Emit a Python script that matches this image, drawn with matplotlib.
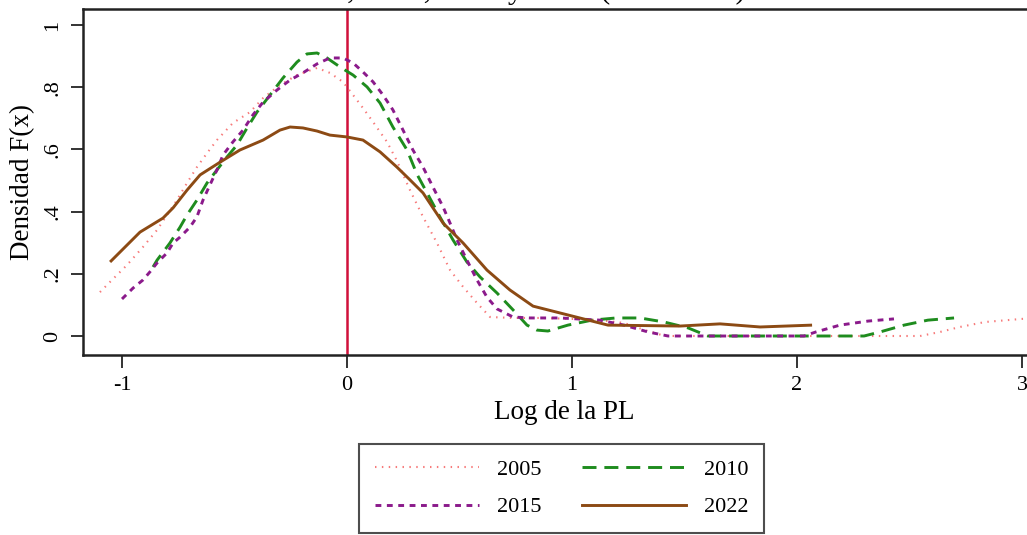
import matplotlib
matplotlib.use("Agg")
import matplotlib.pyplot as plt
from matplotlib.lines import Line2D

plt.rcParams["font.family"] = ["Liberation Serif", "DejaVu Serif"]

# Kernel density estimates of log PL by year
x_2005 = [-1.098, -1.053, -0.978, -0.907, -0.844, -0.756, -0.711, -0.667, -0.622, -0.578,
          -0.507, -0.431, -0.373, -0.298, -0.222, -0.133, -0.076, -0.018, 0.027, 0.071,
          0.116, 0.178, 0.222, 0.280, 0.338, 0.400, 0.458, 0.516, 0.578, 0.636,
          0.738, 0.858, 1.000, 1.124, 1.231, 1.324, 1.413, 1.800, 2.200, 2.547,
          2.636, 2.724, 2.836, 3.000, 3.030]
y_2005 = [0.141, 0.174, 0.228, 0.286, 0.341, 0.437, 0.492, 0.543, 0.588, 0.630,
          0.685, 0.720, 0.765, 0.807, 0.839, 0.862, 0.846, 0.817, 0.775, 0.733,
          0.688, 0.624, 0.563, 0.469, 0.383, 0.299, 0.212, 0.158, 0.106, 0.061,
          0.058, 0.058, 0.055, 0.051, 0.042, 0.019, 0.000, 0.000, 0.000, 0.000,
          0.013, 0.029, 0.045, 0.055, 0.056]

x_2010 = [-0.862, -0.844, -0.787, -0.742, -0.711, -0.667, -0.622, -0.578, -0.533, -0.489,
          -0.444, -0.400, -0.342, -0.284, -0.222, -0.178, -0.133, -0.089, -0.031, 0.027,
          0.089, 0.147, 0.204, 0.267, 0.311, 0.356, 0.413, 0.471, 0.533, 0.591,
          0.667, 0.738, 0.800, 0.844, 0.893, 0.982, 1.089, 1.196, 1.302, 1.409,
          1.516, 1.604, 2.000, 2.298, 2.369, 2.476, 2.582, 2.698]
y_2010 = [0.222, 0.244, 0.299, 0.350, 0.389, 0.437, 0.492, 0.534, 0.576, 0.614,
          0.669, 0.720, 0.775, 0.830, 0.881, 0.907, 0.910, 0.894, 0.865, 0.839,
          0.801, 0.749, 0.672, 0.598, 0.520, 0.460, 0.383, 0.309, 0.238, 0.190,
          0.138, 0.084, 0.035, 0.019, 0.016, 0.035, 0.051, 0.058, 0.058, 0.045,
          0.026, 0.000, 0.000, 0.000, 0.013, 0.035, 0.051, 0.058]

x_2015 = [-1.000, -0.951, -0.907, -0.876, -0.844, -0.800, -0.773, -0.742, -0.698, -0.667,
          -0.640, -0.609, -0.578, -0.551, -0.507, -0.462, -0.418, -0.373, -0.311, -0.253,
          -0.196, -0.133, -0.076, -0.018, 0.027, 0.071, 0.116, 0.160, 0.204, 0.249,
          0.293, 0.338, 0.382, 0.427, 0.458, 0.489, 0.533, 0.578, 0.622, 0.667,
          0.738, 0.813, 0.947, 1.124, 1.231, 1.338, 1.427, 1.800, 2.031, 2.084,
          2.191, 2.316, 2.431]
y_2015 = [0.119, 0.154, 0.180, 0.206, 0.235, 0.267, 0.299, 0.318, 0.350, 0.383,
          0.437, 0.486, 0.534, 0.582, 0.624, 0.662, 0.711, 0.752, 0.791, 0.823,
          0.846, 0.875, 0.894, 0.894, 0.878, 0.849, 0.817, 0.775, 0.727, 0.662,
          0.598, 0.543, 0.479, 0.415, 0.363, 0.309, 0.244, 0.180, 0.125, 0.087,
          0.061, 0.058, 0.058, 0.051, 0.035, 0.013, 0.000, 0.000, 0.000, 0.013,
          0.035, 0.048, 0.055]

x_2022 = [-1.053, -0.920, -0.818, -0.773, -0.711, -0.653, -0.564, -0.476, -0.373, -0.298,
          -0.253, -0.196, -0.133, -0.076, 0.000, 0.071, 0.147, 0.222, 0.280, 0.338,
          0.427, 0.516, 0.622, 0.724, 0.827, 0.947, 1.160, 1.480, 1.658, 1.836,
          2.067]
y_2022 = [0.238, 0.334, 0.379, 0.412, 0.469, 0.518, 0.559, 0.598, 0.630, 0.662,
          0.672, 0.669, 0.659, 0.646, 0.640, 0.630, 0.592, 0.543, 0.502, 0.460,
          0.363, 0.299, 0.212, 0.148, 0.096, 0.074, 0.035, 0.032, 0.039, 0.029,
          0.035]

years = ["2005", "2010", "2015", "2022"]
x_ticks = [-1, 0, 1, 2, 3]
y_ticks = [0, 0.2, 0.4, 0.6, 0.8, 1.0]
y_tick_labels = ["0", ".2", ".4", ".6", ".8", "1"]

W, H = 1027, 535
fig = plt.figure(figsize=(W / 100, H / 100), dpi=100)
ax = fig.add_axes([83 / W, (H - 355) / H, (1045 - 83) / W, (355 - 9) / H])

styles = {
    "2005": dict(color="#F77A7A", lw=1.5, ls=(0, (0.7, 2.6))),
    "2010": dict(color="#1E8C1E", lw=2.1, ls=(0, (4.8, 2.7))),
    "2015": dict(color="#8B1A8B", lw=2.1, ls=(0, (2.0, 1.9))),
    "2022": dict(color="#8C4A14", lw=2.1, ls="-"),
}
series = {
    "2005": (x_2005, y_2005),
    "2010": (x_2010, y_2010),
    "2015": (x_2015, y_2015),
    "2022": (x_2022, y_2022),
}

ax.axvline(0, color="#D0103A", lw=1.8, zorder=1)
for yr in years:
    xs, ys = series[yr]
    ax.plot(xs, ys, solid_capstyle="butt", dash_capstyle="butt",
            solid_joinstyle="round", zorder=2, **styles[yr])

ax.set_xlim(-1.1733, (1045 - 347) / 225)
ax.set_ylim(-19 / 311, 327 / 311)
ax.set_xticks(x_ticks)
ax.set_xticklabels([str(t) for t in x_ticks])
ax.set_yticks(y_ticks)
ax.set_yticklabels(y_tick_labels, rotation=90, va="center")
ax.tick_params(axis="both", direction="out", length=9, width=1.4, labelsize=16,
               color="#333333", pad=6)
for sp in ax.spines.values():
    sp.set_linewidth(1.8)
    sp.set_color("#222222")

ax.set_xlabel("Log de la PL", fontsize=19.5, labelpad=4)
ax.set_ylabel("Densidad F(x)", fontsize=19.5, labelpad=6)

fig.text(746 / W, 1 + 2 / H, "Densidad de la PL en 2005, 2010, 2015 y 2022 (en dólares)",
         ha="right", va="baseline", fontsize=22.1)

# two columns, filled column-wise: (2005, 2015) | (2010, 2022)
order = ["2005", "2015", "2010", "2022"]
handles = [Line2D([], [], **styles[yr]) for yr in order]
leg = fig.legend(handles, order, ncol=2, loc="center",
                 bbox_to_anchor=(561.5 / W, 1 - 488.5 / H),
                 fontsize=16, handlelength=4.7, handletextpad=0.8,
                 columnspacing=1.8, labelspacing=0.75, borderpad=0.7,
                 fancybox=False, frameon=True, edgecolor="#222222")
leg.get_frame().set_linewidth(1.5)

fig.savefig("out.png", dpi=100)
